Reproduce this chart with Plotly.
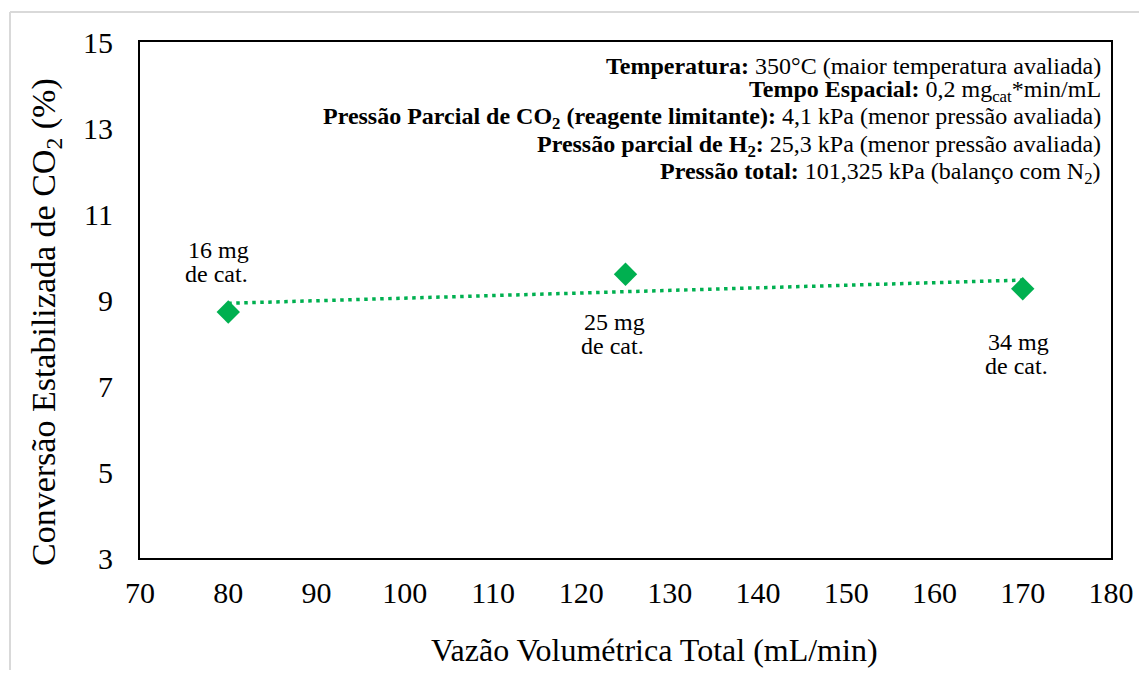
import numpy as np
import plotly.graph_objects as go

# Data
vazao = [80, 125, 170]                 # mL/min
conversao = [8.72, 9.60, 9.26]         # %
rotulos_l1 = ["16 mg", "25 mg", "34 mg"]
rotulos_l2 = ["de cat.", "de cat.", "de cat."]
x_ticks = [70, 80, 90, 100, 110, 120, 130, 140, 150, 160, 170, 180]
y_ticks = [3, 5, 7, 9, 11, 13, 15]
x_title = "Vazão Volumétrica Total (mL/min)"
y_title = "Conversão Estabilizada de CO<sub>2</sub> (%)"
info_lines = [
    "<b>Temperatura:</b> 350°C (maior temperatura avaliada)",
    "<b>Tempo Espacial:</b> 0,2 mg<sub>cat</sub>*min/mL",
    "<b>Pressão Parcial de CO<sub>2</sub> (reagente limitante):</b> 4,1 kPa (menor pressão avaliada)",
    "<b>Pressão parcial de H<sub>2</sub>:</b> 25,3 kPa (menor pressão avaliada)",
    "<b>Pressão total:</b> 101,325 kPa (balanço com N<sub>2</sub>)",
]

GREEN = "#00B050"
FONT = "Liberation Serif"

# linear trendline
slope, intercept = np.polyfit(vazao, conversao, 1)
tx = np.array([min(vazao), max(vazao)])
ty = slope * tx + intercept

OFF = 8  # page body margin
W, H = 1147 - 2 * OFF, 678 - 2 * OFF
L, T = 140 - OFF, 42 - OFF
R = W - (1111 - OFF)
B = H - (558 - OFF)
pw, ph = W - L - R, H - T - B

def sx(px):  # screen px -> paper x
    return (px - OFF - L) / pw

def sy(py):  # screen px -> paper y
    return (H - B - (py - OFF)) / ph

fig = go.Figure()
fig.add_trace(go.Scatter(
    x=tx, y=ty, mode="lines",
    line=dict(color=GREEN, width=3.5, dash="3.5px,4.5px"),
    showlegend=False, hoverinfo="skip"))
fig.add_trace(go.Scatter(
    x=vazao, y=conversao, mode="markers",
    marker=dict(symbol="diamond", size=18, color=GREEN),
    showlegend=False))

# (xshift, yshift of first line, yshift of second line)
shifts = [(-10, 62, 38), (-11, -48, -72), (-4, -53, -77)]
for xv, yv, l1, l2, (dx, dy1, dy2) in zip(vazao, conversao, rotulos_l1, rotulos_l2, shifts):
    fig.add_annotation(x=xv, y=yv, text=l1, showarrow=False,
                       xshift=dx, yshift=dy1,
                       font=dict(family=FONT, size=24, color="black"))
    fig.add_annotation(x=xv, y=yv, text=l2, showarrow=False,
                       xshift=dx - 2, yshift=dy2,
                       font=dict(family=FONT, size=24, color="black"))

line_ys = [66, 91, 118, 146, 173]
for txt, ly in zip(info_lines, line_ys):
    fig.add_annotation(xref="paper", yref="paper",
                       x=sx(1103), y=sy(ly),
                       xanchor="right", yanchor="middle", text=txt,
                       showarrow=False, align="right",
                       font=dict(family=FONT, size=24, color="black"))

# axis titles (offset like the original)
fig.add_annotation(xref="paper", yref="paper", x=sx(654), y=sy(650),
                   xanchor="center", yanchor="middle", text=x_title,
                   showarrow=False, font=dict(family=FONT, size=32, color="black"))
fig.add_annotation(xref="paper", yref="paper", x=sx(46), y=sy(322),
                   xanchor="center", yanchor="middle", text=y_title, textangle=-90,
                   showarrow=False, font=dict(family=FONT, size=34, color="black"))

# light gray outer frame
fx = sx(10)
fy = sy(12)
fig.add_shape(type="line", xref="paper", yref="paper", x0=fx, y0=fy, x1=1.2, y1=fy,
              line=dict(color="#D9D9D9", width=2))
fig.add_shape(type="line", xref="paper", yref="paper", x0=fx, y0=fy, x1=fx, y1=-0.5,
              line=dict(color="#D9D9D9", width=2))

fig.update_layout(
    width=W, height=H,
    margin=dict(l=L, r=R, t=T, b=B, autoexpand=False),
    paper_bgcolor="white", plot_bgcolor="white",
    font=dict(family=FONT, color="black"),
    xaxis=dict(range=[70, 180], tickvals=x_ticks, showgrid=False, zeroline=False,
               showline=True, mirror=True, linecolor="black", linewidth=2,
               ticks="", tickfont=dict(size=30), ticklabelstandoff=7),
    yaxis=dict(range=[3, 15], tickvals=y_ticks, showgrid=False, zeroline=False,
               showline=True, mirror=True, linecolor="black", linewidth=2,
               ticks="", tickfont=dict(size=30), ticklabelstandoff=19),
)

fig.write_html("out.html")
